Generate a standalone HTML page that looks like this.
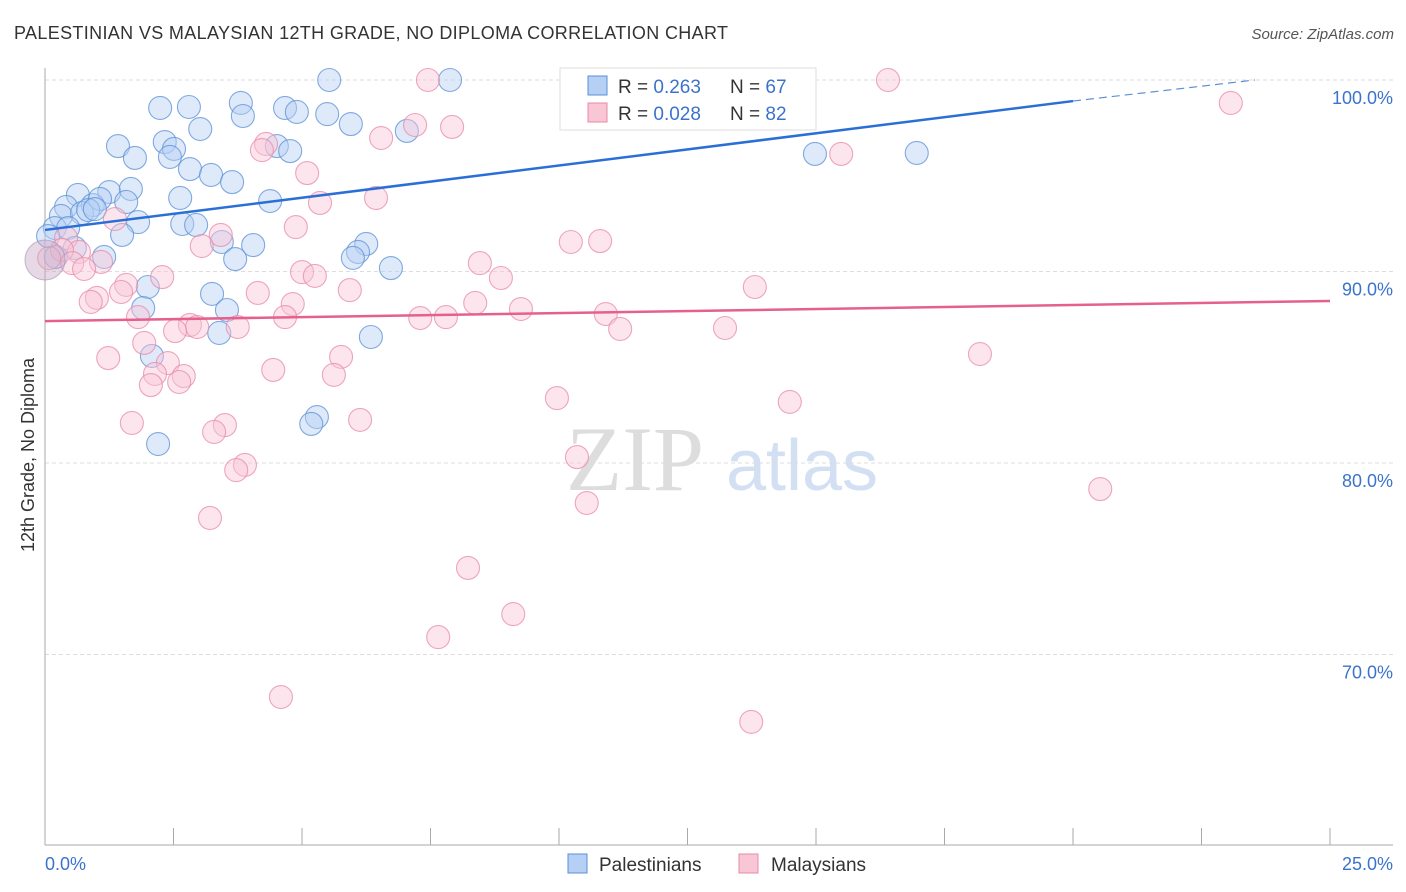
<!DOCTYPE html>
<html><head><meta charset="utf-8"><style>
body{margin:0;background:#fff;font-family:"Liberation Sans",sans-serif;}
svg{display:block}
</style></head><body>
<svg id="chart" width="1406" height="892" xmlns="http://www.w3.org/2000/svg">
<text x="14" y="39" font-size="18" fill="#333" textLength="714">PALESTINIAN VS MALAYSIAN 12TH GRADE, NO DIPLOMA CORRELATION CHART</text>
<text x="1394" y="39" font-size="15" fill="#555" text-anchor="end" font-style="italic">Source: ZipAtlas.com</text>
<g>
<text x="635" y="490" font-size="92" fill="#ddd" font-family="Liberation Serif,serif" text-anchor="middle">ZIP</text>
<text x="802" y="490" font-size="72" fill="#d3e0f3" text-anchor="middle">atlas</text>
</g>
<g id="grid"></g>
<g id="axes"></g>
<g id="dots"></g>
<g id="trends"></g>
<text transform="translate(34,455) rotate(-90)" font-size="18" fill="#333" text-anchor="middle">12th Grade, No Diploma</text>
<g>
<rect x="560" y="68" width="256" height="62" fill="#fff" stroke="#ddd"/>
<rect x="588" y="76" width="19" height="19" fill="#b6d0f5" stroke="#5b8fd6"/>
<text x="618" y="93" font-size="19" fill="#333">R = <tspan fill="#3b73cc">0.263</tspan></text>
<text x="730" y="93" font-size="19" fill="#333">N = <tspan fill="#3b73cc">67</tspan></text>
<rect x="588" y="103" width="19" height="19" fill="#f9c6d6" stroke="#e88aa8"/>
<text x="618" y="120" font-size="19" fill="#333">R = <tspan fill="#3b73cc">0.028</tspan></text>
<text x="730" y="120" font-size="19" fill="#333">N = <tspan fill="#3b73cc">82</tspan></text>
</g>
<g>
<rect x="568" y="854" width="19" height="19" fill="#b6d0f5" stroke="#5b8fd6"/>
<text x="599" y="871" font-size="19" fill="#333">Palestinians</text>
<rect x="739" y="854" width="19" height="19" fill="#f9c6d6" stroke="#e88aa8"/>
<text x="771" y="871" font-size="19" fill="#333">Malaysians</text>
</g>
</svg>
<script>
const yTicks=[100,90,80,70];
const yTickLabels=["100.0%","90.0%","80.0%","70.0%"];
const xEndLabels=["0.0%","25.0%"];
const blueX=[5.53,7.88,13.54,2.24,2.80,3.81,3.85,4.67,4.90,5.49,5.95,7.04,1.42,2.33,2.51,3.02,1.75,2.43,4.51,4.77,14.98,16.96,2.82,3.23,3.64,0.64,1.25,1.67,2.63,4.38,0.41,0.93,1.58,1.07,0.31,0.72,0.84,0.97,1.81,2.67,2.94,0.19,0.45,1.50,3.44,4.05,6.25,6.09,5.99,3.70,0.58,1.15,6.73,0.21,3.25,2.00,3.54,1.91,3.39,6.34,2.08,5.29,5.18,2.20,0.06];
const blueY=[100,100,100,98.54,98.59,98.80,98.12,98.54,98.33,98.22,97.70,97.34,96.55,96.76,96.40,97.44,95.93,95.98,96.55,96.29,96.14,96.19,95.35,95.04,94.67,94.0,94.15,94.31,93.84,93.68,93.37,93.47,93.63,93.79,92.90,93.05,93.21,93.26,92.58,92.48,92.43,92.27,92.27,91.91,91.54,91.38,91.44,91.02,90.71,90.65,91.23,90.76,90.18,90.76,88.83,89.19,87.99,88.09,86.79,86.58,85.59,82.40,82.04,80.99,91.85];
const pinkX=[7.45,11.83,16.40,23.07,14.11,4.30,4.22,6.54,7.20,7.92,15.49,5.10,6.44,5.35,1.36,4.88,3.42,3.05,10.23,10.80,0.41,0.66,0.33,0.08,1.09,0.53,0.76,8.46,5.00,5.25,8.87,2.28,13.81,1.58,4.14,5.93,1.01,0.89,4.82,1.48,9.26,10.91,7.30,7.80,8.37,1.81,4.67,2.82,2.96,3.75,2.53,11.19,13.23,1.93,1.23,5.76,2.39,4.44,5.62,2.70,2.14,2.06,2.61,18.19,9.96,14.49,1.69,3.50,3.29,6.13,10.35,3.89,3.72,10.54,20.53,3.21,8.23,9.11,7.65,4.59,13.74];
const pinkY=[100,100,100,98.80,98.28,96.66,96.34,96.97,97.65,97.55,96.14,95.14,93.84,93.58,92.74,92.32,91.91,91.33,91.54,91.59,91.75,91.02,91.12,90.70,90.50,90.44,90.13,90.44,89.97,89.77,89.66,89.71,89.19,89.30,88.88,89.03,88.62,88.41,88.30,88.93,88.04,87.78,87.57,87.62,88.36,87.62,87.62,87.21,87.10,87.10,86.89,87.00,87.05,86.27,85.48,85.54,85.22,84.86,84.60,84.54,84.65,84.07,84.23,85.69,83.39,83.19,82.09,81.98,81.62,82.25,80.31,79.90,79.63,77.91,78.64,77.13,74.52,72.11,70.91,67.78,66.48];
const blueTrend=[[0,92.17],[20,98.9]];
const blueTrendExt=[[20,98.9],[23.54,100]];
const pinkTrend=[[0,87.41],[25,88.46]];
const NS="http://www.w3.org/2000/svg";
const sx=v=>45+v*51.4;
const sy=v=>80+(100-v)*19.15;
function mk(tag,attrs,parent){const e=document.createElementNS(NS,tag);for(const k in attrs)e.setAttribute(k,attrs[k]);parent.appendChild(e);return e;}
const grid=document.getElementById('grid'),axes=document.getElementById('axes'),dots=document.getElementById('dots'),trends=document.getElementById('trends');
yTicks.forEach((t,i)=>{
 const l=mk('line',{x1:45,x2:1393,y1:sy(t),y2:sy(t),stroke:'#ddd','stroke-dasharray':'4,3'},grid);
 
 
 const tx=mk('text',{x:1393,y:sy(t)+24,'font-size':18,fill:'#3b73cc','text-anchor':'end'},grid);
 tx.textContent=yTickLabels[i];
 
 
});
const ya=mk('line',{x1:45,x2:45,y1:68,y2:845,stroke:'#aaa'},axes);


const xa=mk('line',{x1:45,x2:1393,y1:845,y2:845,stroke:'#aaa'},axes);


for(let k=1;k<=10;k++){const t=mk('line',{x1:sx(k*2.5),x2:sx(k*2.5),y1:828,y2:845,stroke:'#aaa'},axes);
 
 }
[[0,'start',45],[25,'end',1393]].forEach((d,i)=>{const t=mk('text',{x:d[2],y:870,'font-size':18,fill:'#3b73cc','text-anchor':d[1]},axes);t.textContent=xEndLabels[i];
 
 });
function series(X,Y,fill,stroke,name){X.forEach((x,i)=>{const c=mk('circle',{cx:sx(x),cy:sy(Y[i]),r:11.5,fill:fill,'fill-opacity':0.45,stroke:stroke,'stroke-opacity':0.75,'stroke-width':1.1},dots);
 
 });}
series(blueX,blueY,'#b6d0f5','#5b8fd6','palestinian-point');
series(pinkX,pinkY,'#f9c6d6','#e88aa8','malaysian-point');
const big=mk('circle',{cx:sx(0),cy:sy(90.6),r:20,fill:'#c9a8c8','fill-opacity':0.45,stroke:'#a888b8','stroke-opacity':0.6},dots);


function tl(p,color,w,dash,name){const l=mk('line',{x1:sx(p[0][0]),y1:sy(p[0][1]),x2:sx(p[1][0]),y2:sy(p[1][1]),stroke:color,'stroke-width':w},trends);if(dash)l.setAttribute('stroke-dasharray',dash);
 
 }
tl(blueTrend,'#2a6fd6',2.5,null,'palestinian-trendline');
tl(blueTrendExt,'#5b8fd6',1.2,'8,5','palestinian-trendline-extension');
tl(pinkTrend,'#e5608e',2.5,null,'malaysian-trendline');
</script>
</body></html>
